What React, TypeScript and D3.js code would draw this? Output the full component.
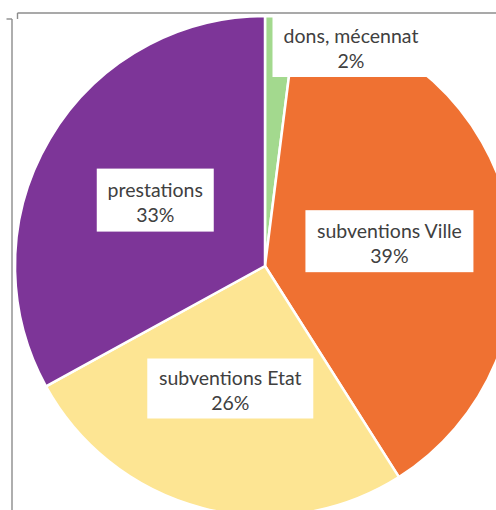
import React from "react";
import * as d3 from "d3";

const categories = ["dons, mécennat", "subventions Ville", "subventions Etat", "prestations"];
const values = [2, 39, 26, 33];
const percentLabels = ["2%", "39%", "26%", "33%"];
const colors = ["#a3d98e", "#ef7132", "#fde593", "#7d3598"];

// label box layout (center offsets from centroid, box sizes)
const labelNudge: [number, number][] = [
  [0, 0],
  [0, 3],
  [-3, -1],
  [0, -1],
];
const boxSize: [number, number][] = [
  [157, 62],
  [168, 62],
  [166, 60],
  [117, 63],
];

const W = 496;
const H = 510;
const cx = 265;
const cy = 266;
const R = 250;

export default function App() {
  const pie = d3
    .pie<number>()
    .sort(null)
    .value((d) => d)
    .startAngle(0)
    .endAngle(2 * Math.PI);
  const arcs = pie(values);
  const arc = d3.arc<d3.PieArcDatum<number>>().innerRadius(0).outerRadius(R);
  const labelArc = d3
    .arc<d3.PieArcDatum<number>>()
    .innerRadius(R * 0.51)
    .outerRadius(R * 0.51);

  // dons label sits outside, at the top
  const labelCenters = arcs.map((a, i) => {
    if (i === 0) return [351 - cx, 46 - cy];
    const [x, y] = labelArc.centroid(a);
    return [x + labelNudge[i][0], y + labelNudge[i][1]];
  });

  return (
    <svg
      width={W}
      height={H}
      style={{ position: "absolute", left: 0, top: 0, background: "#fff" }}
    >
      <g transform={`translate(${cx},${cy})`}>
        {arcs.map((a, i) => (
          <path
            key={i}
            d={arc(a) || ""}
            fill={colors[i]}
            stroke="#ffffff"
            strokeWidth={2.5}
            strokeLinejoin="round"
          />
        ))}
        {arcs.map((a, i) => {
          const [lx, ly] = labelCenters[i];
          const [bw, bh] = boxSize[i];
          return (
            <g key={"l" + i} transform={`translate(${lx},${ly})`}>
              <rect x={-bw / 2} y={-bh / 2} width={bw} height={bh} fill="#ffffff" />
              <text
                textAnchor="middle"
                fontFamily="Lato, 'Open Sans', sans-serif"
                fontSize={19.5}
                fill="#404040"
              >
                <tspan x={0} y={-3}>{categories[i]}</tspan>
                <tspan x={0} y={22}>{percentLabels[i]}</tspan>
              </text>
            </g>
          );
        })}
      </g>
      <g stroke="#8c8c8c" strokeWidth={1.4} fill="none">
        <line x1={17.5} y1={13} x2={W} y2={13} />
        <line x1={17.5} y1={13} x2={17.5} y2={19} />
        <line x1={6.5} y1={19} x2={12} y2={19} />
        <line x1={12} y1={19} x2={12} y2={H} />
      </g>
    </svg>
  );
}
